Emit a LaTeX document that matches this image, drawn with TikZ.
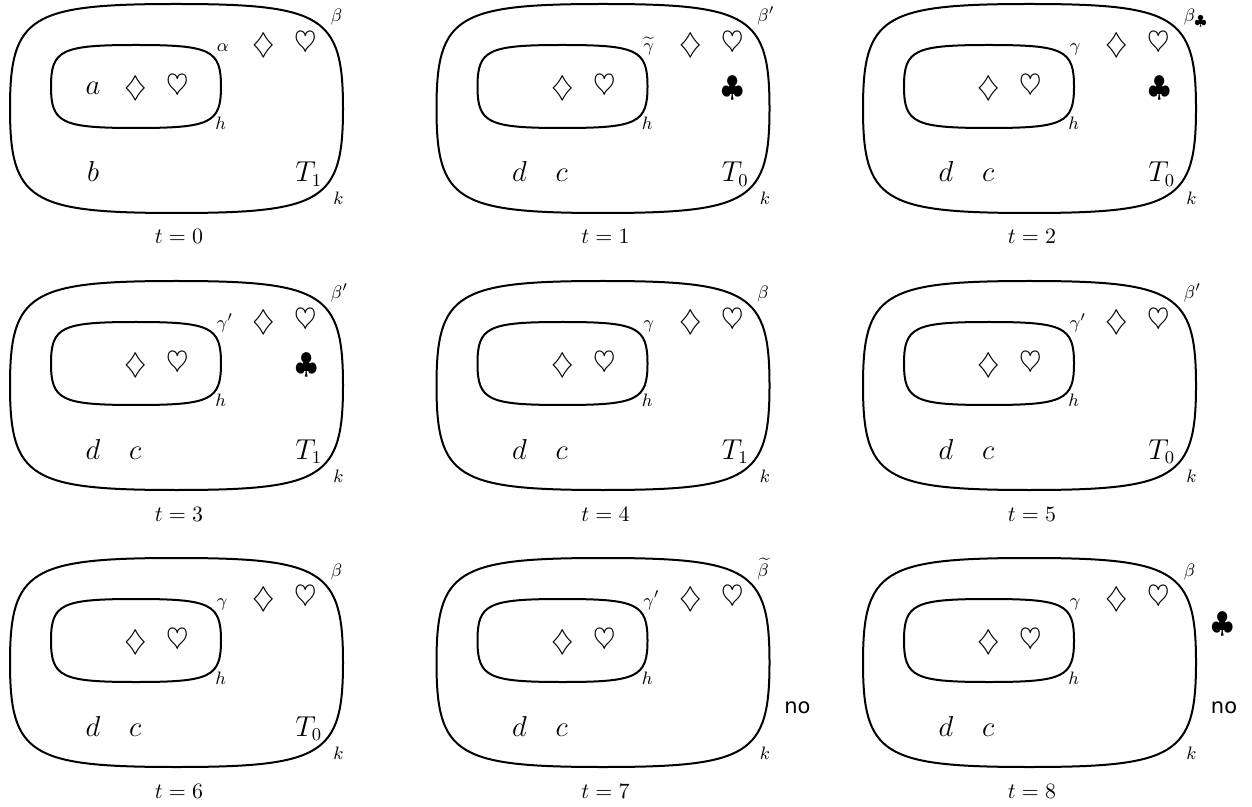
\documentclass[tikz,border=0pt]{standalone}
\usepackage{fontspec}
\newfontfamily\nofont{DejaVu Sans}

\begin{document}
\begin{tikzpicture}[
      x=0.5pt, y=-0.5pt,
      outline/.style={draw, line width=1pt},
      mtxt/.style={font=\fontsize{13.5}{16}\selectfont, inner sep=0pt, anchor=base},
      suit/.style={font=\fontsize{13.5}{16}\selectfont, inner sep=0pt},
      lbl/.style={font=\fontsize{9.5}{11}\selectfont, inner sep=0pt, anchor=base west},
      caption/.style={font=\fontsize{10.5}{12}\selectfont, inner sep=0pt, anchor=base},
      notxt/.style={font=\nofont\fontsize{10.5}{12}\selectfont, inner sep=0pt, anchor=base}
    ]
      \useasboundingbox (0,0) rectangle (1252,807);

      \foreach \n/\bt/\gm/\Tl/\ina/\lone/\ltwo in {
          0/\beta/\alpha/T_1/a/b/{},
          1/\beta'/\widetilde{\gamma}/T_0/{}/d/c,
          2/\beta_\clubsuit/\gamma/T_0/{}/d/c,
          3/\beta'/\gamma'/T_1/{}/d/c,
          4/\beta/\gamma/T_1/{}/d/c,
          5/\beta'/\gamma'/T_0/{}/d/c,
          6/\beta/\gamma/T_0/{}/d/c,
          7/\widetilde{\beta}/\gamma'/{}/{}/d/c,
          8/\beta/\gamma/{}/{}/d/c}{
        \pgfmathtruncatemacro{\col}{mod(\n,3)}
        \pgfmathtruncatemacro{\row}{int(\n/3)}
        \begin{scope}[shift={({176.5+426.5*\col},{108.5+277*\row})}]
          % outer set k
          \draw[outline] (166.5,0) .. controls (166.5,92) and (146.5,104.5) .. (0,104.5)
            .. controls (-146.5,104.5) and (-166.5,92) .. (-166.5,0)
            .. controls (-166.5,-92) and (-146.5,-104.5) .. (0,-104.5)
            .. controls (146.5,-104.5) and (166.5,-92) .. cycle;
          % inner set h
          \draw[outline] (44.5,-22) .. controls (44.5,14.5) and (34.3,19.5) .. (-40.5,19.5)
            .. controls (-115.3,19.5) and (-125.5,14.5) .. (-125.5,-22)
            .. controls (-125.5,-58.5) and (-115.3,-63.5) .. (-40.5,-63.5)
            .. controls (34.3,-63.5) and (44.5,-58.5) .. cycle;

          \node[suit] (dia\n)   at (-40.5,-20.5) {$\diamondsuit$};
          \node[suit] (heart\n) at (1.5,-22)     {$\heartsuit$};
          \node[suit] (odia\n)  at (87.5,-63.5)  {$\diamondsuit$};
          \node[suit] (oheart\n) at (129.5,-65.5) {$\heartsuit$};
          \node[mtxt] (in\n)    at (-83.5,-13.5) {$\ina$};
          \node[mtxt] (left\n)  at (-83.5,73.5)  {$\lone$};
          \node[mtxt] (mid\n)   at (-41.3,73.5)  {$\ltwo$};
          \node[mtxt, anchor=base west] (T\n) at (118.5,73.5) {$\Tl$};

          \node[lbl] (beta\n) at (154,-86.5)  {$\bt$};
          \node[lbl] (gam\n)  at (40,-56.5)   {$\gm$};
          \node[lbl] (h\n)    at (38.5,21.5)  {$h$};
          \node[lbl] (k\n)    at (156.5,96.5) {$k$};
          \node[caption] (t\n) at (2.5,135.5) {$t=\n$};

          \coordinate (cl\n) at (130,-20.5);
          \coordinate (ex\n) at (193.5,-38);
          \coordinate (no\n) at (194.5,51);
        \end{scope}
      }

      \node[suit] (club1) at (cl1) {$\clubsuit$};
      \node[suit] (club2) at (cl2) {$\clubsuit$};
      \node[suit] (club3) at (cl3) {$\clubsuit$};
      \node[suit] (club8) at (ex8) {$\clubsuit$};
      \node[notxt] (noA) at (no7) {no};
      \node[notxt] (noB) at (no8) {no};
    \end{tikzpicture}
\end{document}
